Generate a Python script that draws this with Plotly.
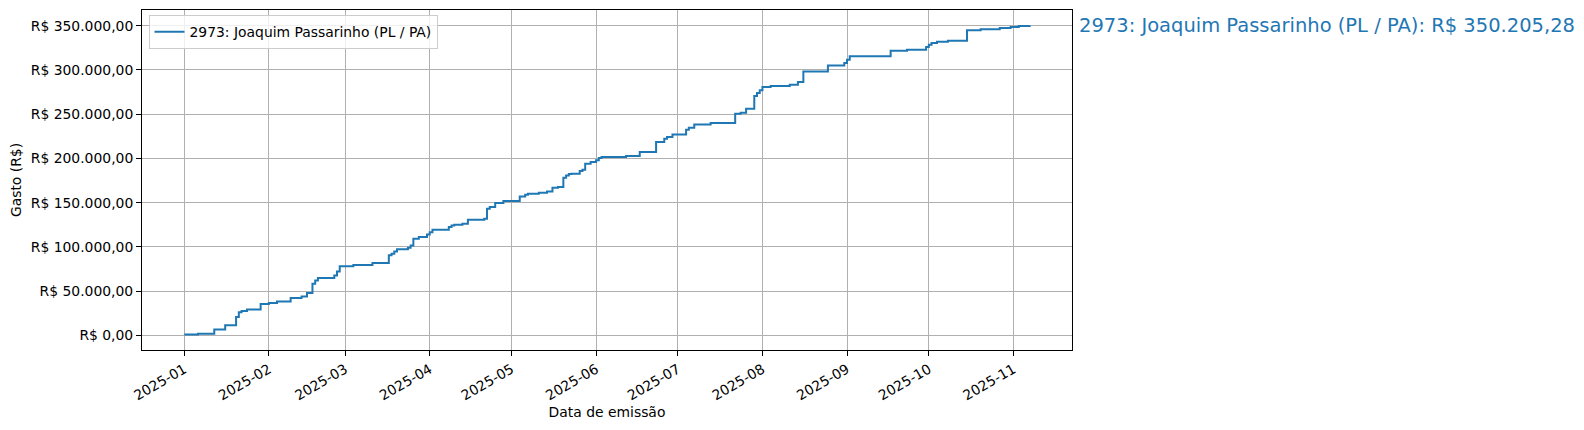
import pandas as pd
import plotly.graph_objects as go

# ---- data ----
dates = [
    "2025-01-01", "2025-01-06", "2025-01-12", "2025-01-16", "2025-01-20", "2025-01-21",
    "2025-01-22", "2025-01-24", "2025-01-29", "2025-02-01", "2025-02-04", "2025-02-09",
    "2025-02-13", "2025-02-15", "2025-02-17", "2025-02-18", "2025-02-19", "2025-02-25",
    "2025-02-26", "2025-02-27", "2025-03-04", "2025-03-11", "2025-03-17", "2025-03-18",
    "2025-03-19", "2025-03-20", "2025-03-24", "2025-03-25", "2025-03-26", "2025-03-28",
    "2025-03-31", "2025-04-01", "2025-04-02", "2025-04-08", "2025-04-09", "2025-04-10",
    "2025-04-13", "2025-04-15", "2025-04-21", "2025-04-22", "2025-04-23", "2025-04-25",
    "2025-04-28", "2025-05-04", "2025-05-06", "2025-05-07", "2025-05-11", "2025-05-14",
    "2025-05-16", "2025-05-18", "2025-05-20", "2025-05-21", "2025-05-22", "2025-05-23",
    "2025-05-26", "2025-05-27", "2025-05-28", "2025-05-30", "2025-06-01", "2025-06-02",
    "2025-06-03", "2025-06-12", "2025-06-17", "2025-06-23", "2025-06-26", "2025-06-27",
    "2025-06-29", "2025-07-04", "2025-07-05", "2025-07-07", "2025-07-13", "2025-07-22",
    "2025-07-24", "2025-07-26", "2025-07-29", "2025-07-30", "2025-07-31", "2025-08-01",
    "2025-08-04", "2025-08-11", "2025-08-14", "2025-08-16", "2025-08-25", "2025-08-31",
    "2025-09-01", "2025-09-02", "2025-09-17", "2025-09-23", "2025-09-30", "2025-10-01",
    "2025-10-02", "2025-10-04", "2025-10-08", "2025-10-15", "2025-10-20", "2025-10-27",
    "2025-10-31", "2025-11-03", "2025-11-07",
]
cumulative_spend = [
    1000, 2000, 6800, 11600, 20700, 26300,
    27500, 29400, 35400, 36500, 38400, 42200,
    44000, 47800, 58400, 62200, 64800, 67800,
    72300, 78300, 79500, 81700, 90700, 92300,
    94900, 97500, 99100, 101700, 109300, 111100,
    114100, 116700, 119400, 122400, 124300, 125100,
    126200, 130700, 131900, 143200, 145000, 149500,
    151800, 157100, 159000, 160100, 161300, 162700,
    166900, 167600, 178200, 180800, 182300, 182700,
    185700, 187200, 194000, 195900, 197800, 200400,
    201500, 202700, 207100, 218400, 222200, 224100,
    227100, 232400, 234700, 238400, 239900, 250500,
    251700, 256200, 270400, 273800, 276900, 280600,
    281700, 283300, 286200, 298300, 305100, 307700,
    311500, 315300, 321700, 322800, 325800, 328500,
    330300, 331900, 333000, 344700, 345800, 347200,
    348400, 349500, 350205.28,
]
series_name = "2973: Joaquim Passarinho (PL / PA)"
y_tick_values = [0, 50000, 100000, 150000, 200000, 250000, 300000, 350000]
y_tick_labels = ["R$ 0,00", "R$ 50.000,00", "R$ 100.000,00", "R$ 150.000,00",
                 "R$ 200.000,00", "R$ 250.000,00", "R$ 300.000,00", "R$ 350.000,00"]
x_tick_values = ["2025-01-01", "2025-02-01", "2025-03-01", "2025-04-01", "2025-05-01", "2025-06-01",
                 "2025-07-01", "2025-08-01", "2025-09-01", "2025-10-01", "2025-11-01"]
x_tick_labels = ["2025-01", "2025-02", "2025-03", "2025-04", "2025-05", "2025-06",
                 "2025-07", "2025-08", "2025-09", "2025-10", "2025-11"]


def brl(v):
    s = f"{v:,.2f}".replace(",", "X").replace(".", ",").replace("X", ".")
    return "R$ " + s


# matplotlib-like 5% margins
d = pd.to_datetime(dates)
span = d[-1] - d[0]
x_range = [d[0] - span * 0.05, d[-1] + span * 0.05]
ymin, ymax = min(cumulative_spend), max(cumulative_spend)
ypad = (ymax - ymin) * 0.05
y_range = [ymin - ypad, ymax + ypad]

FONT = "DejaVu Sans"
BLUE = "#1f77b4"
TICK_SIZE = 13.9
TEXT_SIZE = 13.9

fig = go.Figure()
fig.add_trace(go.Scatter(
    x=dates, y=cumulative_spend, mode="lines", name=series_name,
    line=dict(color=BLUE, width=2, shape="hv"),
))

fig.add_annotation(
    x=1.005, xref="paper", y=cumulative_spend[-1], yref="y",
    text=f"{series_name}: {brl(cumulative_spend[-1])}",
    showarrow=False, xanchor="left", yanchor="middle",
    font=dict(family=FONT, size=19.5, color=BLUE),
)

axis_common = dict(
    showline=True, linecolor="black", linewidth=1, mirror=True,
    ticks="outside", ticklen=5, tickcolor="black", tickwidth=1,
    showgrid=True, gridcolor="#b0b0b0", gridwidth=1, zeroline=False,
    tickfont=dict(family=FONT, size=TICK_SIZE, color="black"),
    automargin=False,
)

fig.update_layout(
    width=1576, height=422,
    margin=dict(l=134, r=512, t=2, b=80),
    paper_bgcolor="white", plot_bgcolor="white",
    font=dict(family=FONT, size=TEXT_SIZE, color="black"),
    showlegend=True,
    legend=dict(
        x=0.007, y=0.985, xanchor="left", yanchor="top",
        bordercolor="#cccccc", borderwidth=1, bgcolor="rgba(255,255,255,0.8)",
        font=dict(family=FONT, size=TEXT_SIZE, color="black"),
    ),
    xaxis=dict(
        **axis_common, type="date", range=x_range,
        tickmode="array", tickvals=x_tick_values, ticktext=x_tick_labels, tickangle=-30,
        title=dict(text="Data de emissão", font=dict(family=FONT, size=TEXT_SIZE), standoff=4),
    ),
    yaxis=dict(
        **axis_common, range=y_range,
        tickmode="array", tickvals=y_tick_values, ticktext=y_tick_labels,
        title=dict(text="Gasto (R$)", font=dict(family=FONT, size=TEXT_SIZE), standoff=6),
    ),
)

fig.write_html("out.html")
